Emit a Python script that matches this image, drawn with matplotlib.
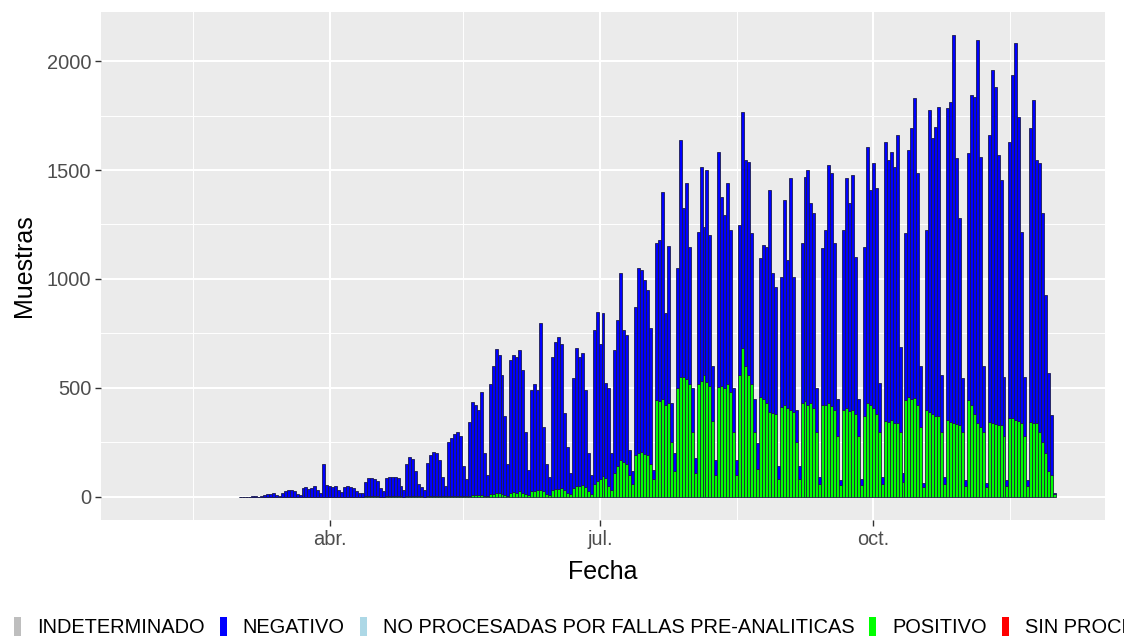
import matplotlib
matplotlib.use('Agg')
import matplotlib.pyplot as plt
from matplotlib.patches import Patch
import pandas as pd

# muestras por dia (total = negativo + positivo), semanas lun..dom desde 2020-03-02
total = [
    0, 0, 0, 0, 4, 2, 0,
    6, 10, 12, 15, 18, 8, 5,
    20, 28, 32, 30, 26, 15, 10,
    40, 45, 38, 42, 50, 30, 20,
    150, 55, 50, 45, 48, 30, 22,
    45, 50, 47, 40, 25, 20, 18,
    70, 85, 86, 80, 75, 40, 25,
    88, 93, 90, 92, 85, 50, 30,
    150, 185, 175, 120, 60, 45, 30,
    155, 190, 208, 200, 170, 90, 50,
    250, 270, 290, 300, 280, 140, 80,
    345, 437, 420, 400, 483, 200, 100,
    520, 600, 680, 650, 560, 370, 150,
    630, 650, 640, 675, 580, 300, 124,
    490, 520, 490, 797, 323, 150, 90,
    640, 712, 735, 700, 384, 230, 110,
    544, 682, 644, 660, 490, 200, 100,
    766, 850, 700, 842, 521, 498, 200,
    674, 812, 1026, 766, 743, 215, 120,
    873, 1049, 1041, 995, 950, 774, 124,
    1164, 1179, 1400, 843, 1150, 430, 200,
    1049, 1638, 1324, 1439, 1148, 500, 180,
    1217, 1515, 1240, 1500, 1202, 600, 170,
    1584, 1378, 1294, 1439, 1225, 500, 170,
    1248, 1767, 1546, 1538, 1209, 450, 246,
    1095, 1156, 1148, 1408, 1026, 965, 140,
    1011, 1362, 1087, 1462, 1011, 400, 140,
    1164, 1469, 1500, 1347, 1301, 500, 93,
    1141, 1225, 1523, 1485, 1164, 450, 78,
    1225, 1462, 1347, 1477, 1102, 450, 80,
    1148, 1607, 1408, 1531, 1416, 521, 93,
    1630, 1546, 1584, 1515, 1661, 690, 108,
    1209, 1592, 1691, 1829, 1485, 600, 63,
    1225, 1775, 1645, 1699, 1790, 560, 93,
    1783, 1813, 2119, 1553, 1278, 544, 78,
    1576, 1844, 1836, 2096, 1561, 600, 63,
    1660, 1959, 1882, 1569, 1454, 550, 78,
    1630, 1936, 2081, 1745, 1217, 550, 78,
    1691, 1821, 1546, 1531, 1301, 927, 567,
    376, 20,
]

positivo = [
    0, 0, 0, 0, 0, 0, 0,
    0, 0, 0, 0, 0, 0, 0,
    0, 0, 1, 1, 1, 0, 0,
    1, 1, 1, 1, 1, 0, 0,
    1, 1, 1, 1, 1, 1, 0,
    1, 1, 1, 1, 1, 1, 0,
    2, 2, 2, 2, 2, 1, 1,
    2, 3, 3, 3, 3, 2, 1,
    3, 3, 4, 4, 3, 2, 1,
    3, 4, 4, 5, 4, 3, 2,
    4, 5, 5, 6, 5, 3, 2,
    5, 8, 8, 10, 10, 5, 3,
    12, 15, 18, 16, 15, 10, 5,
    18, 22, 20, 25, 20, 12, 8,
    25, 28, 30, 32, 25, 15, 10,
    30, 35, 38, 40, 30, 20, 12,
    40, 48, 50, 55, 45, 28, 15,
    60, 75, 80, 95, 85, 50, 30,
    110, 140, 170, 160, 150, 100, 60,
    190, 200, 205, 195, 193, 150, 80,
    445, 440, 450, 420, 430, 250, 120,
    500, 550, 552, 540, 520, 300, 110,
    520, 530, 560, 525, 510, 350, 100,
    505, 510, 500, 520, 480, 300, 100,
    560, 682, 600, 560, 520, 300, 130,
    460, 450, 430, 390, 384, 380, 80,
    414, 420, 410, 400, 390, 250, 80,
    430, 440, 420, 430, 410, 300, 60,
    422, 420, 430, 415, 400, 280, 55,
    400, 410, 395, 400, 380, 280, 55,
    370, 430, 420, 410, 380, 300, 60,
    350, 345, 355, 340, 338, 300, 70,
    445, 460, 450, 455, 420, 320, 45,
    400, 390, 380, 370, 370, 300, 60,
    353, 345, 340, 335, 330, 300, 50,
    445, 420, 380, 340, 322, 300, 45,
    345, 340, 335, 330, 330, 280, 50,
    360, 360, 355, 350, 340, 280, 50,
    345, 340, 340, 300, 250, 200, 120,
    100, 15,
]

fechas = pd.date_range('2020-03-02', periods=len(total), freq='D')
negativo = [t - p for t, p in zip(total, positivo)]

categorias = ['INDETERMINADO', 'NEGATIVO', 'NO PROCESADAS POR FALLAS PRE-ANALITICAS',
              'POSITIVO', 'SIN PROCESAR']
colores = ['#BEBEBE', '#0000FF', '#ADD8E6', '#00FF00', '#FF0000']

plt.rcParams['font.family'] = ['Liberation Sans', 'DejaVu Sans']

fig = plt.figure(figsize=(11.24, 6.4), dpi=100)
ax = fig.add_axes([101 / 1124, 1 - 520 / 640, 1004 / 1124, 508 / 640])
ax.set_facecolor('#EBEBEB')

ax.bar(fechas, positivo, width=1.0, color='#00FF00', edgecolor='#1c2a3a', linewidth=0.6, zorder=3)
ax.bar(fechas, negativo, width=1.0, bottom=positivo, color='#0000FF', edgecolor='#1c1c50',
       linewidth=0.6, zorder=3)

ax.set_xlim(pd.Timestamp('2020-01-15'), pd.Timestamp('2020-12-18'))
ax.set_ylim(-106, 2225)

ax.set_xticks(pd.to_datetime(['2020-04-01', '2020-07-01', '2020-10-01']))
ax.set_xticklabels(['abr.', 'jul.', 'oct.'])
ax.set_xticks(pd.to_datetime(['2020-02-15', '2020-05-16', '2020-08-16', '2020-11-16']), minor=True)
ax.set_yticks([0, 500, 1000, 1500, 2000])
ax.set_yticks([250, 750, 1250, 1750], minor=True)

ax.grid(which='major', color='white', linewidth=1.5, zorder=0)
ax.grid(which='minor', color='white', linewidth=0.7, zorder=0)
ax.set_axisbelow(True)
for s in ax.spines.values():
    s.set_visible(False)

ax.tick_params(which='major', length=4, width=1, color='#333333', labelsize=14.4,
               labelcolor='#4D4D4D', pad=3)
ax.tick_params(which='minor', length=0)

ax.set_xlabel('Fecha', fontsize=18, labelpad=8)
ax.set_ylabel('Muestras', fontsize=18, labelpad=8)

handles = [Patch(facecolor=c, edgecolor='none') for c in colores]
fig.legend(handles, categorias, loc='center left', bbox_to_anchor=(0.0, 0.02), ncol=5,
           frameon=False, fontsize=14.4, handlelength=0.35, handleheight=1.1,
           handletextpad=0.8, columnspacing=0.75, borderaxespad=0.3)

fig.savefig('out.png', dpi=100)
